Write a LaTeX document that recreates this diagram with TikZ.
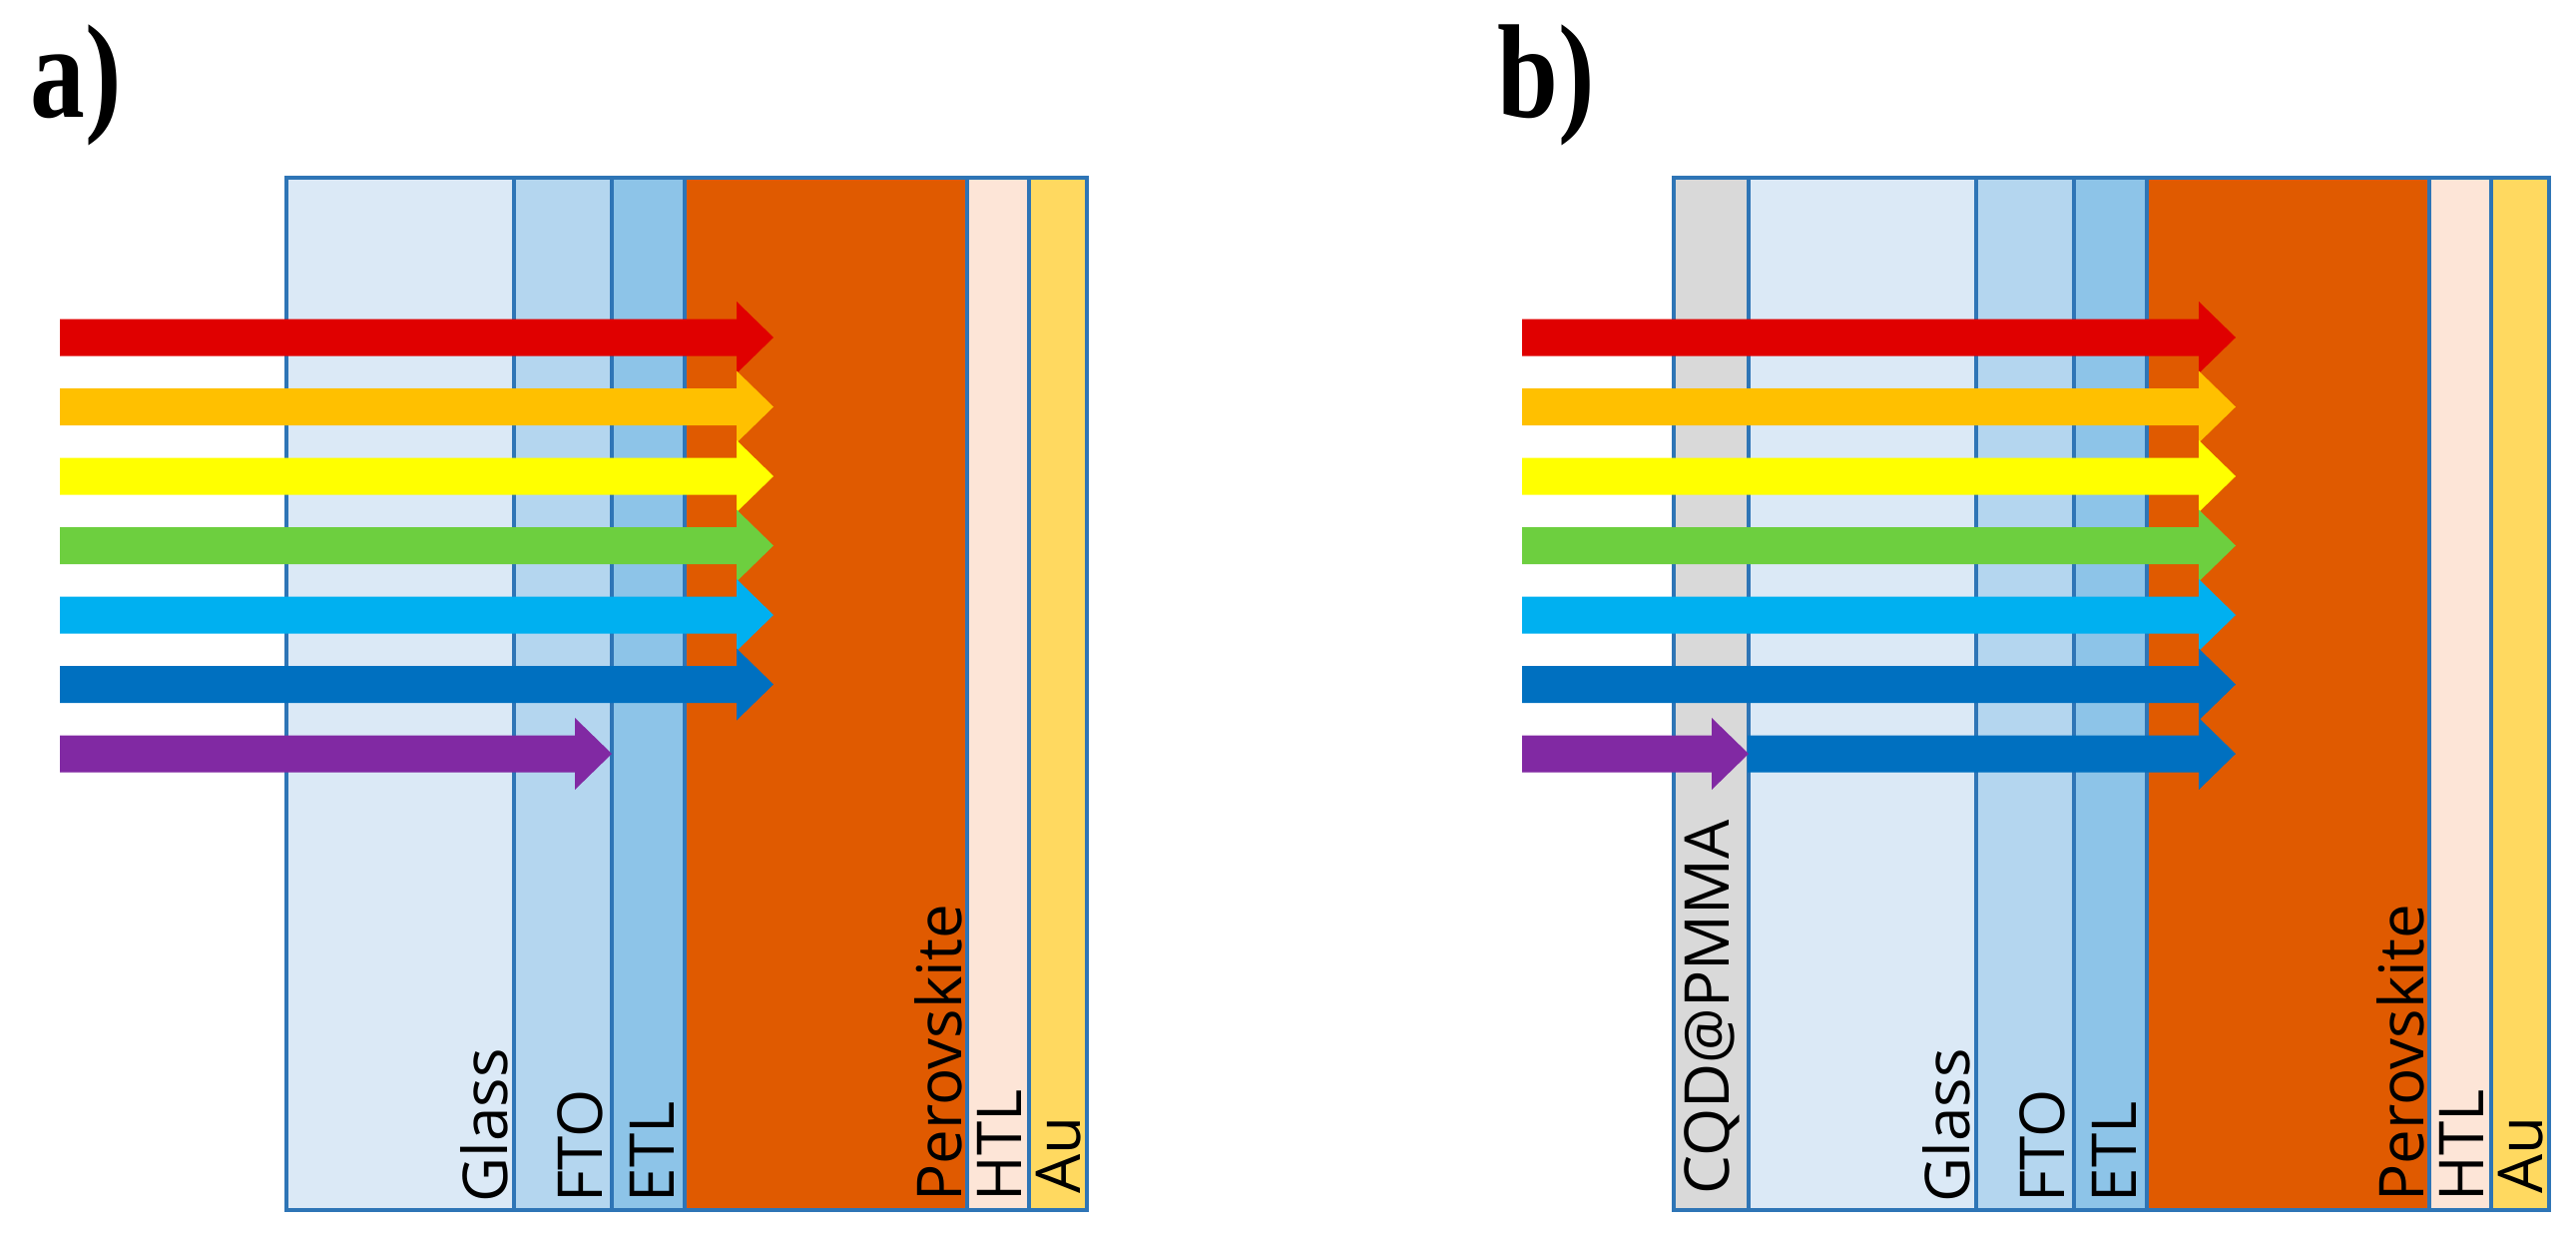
\documentclass[tikz,border=0pt]{standalone}
\usepackage{fontspec}
\setmainfont{Liberation Serif}
\newfontfamily\lblfont{Open Sans}
\definecolor{edgeblue}{HTML}{2E75B6}
\definecolor{glassc}{HTML}{DBE9F6}
\definecolor{ftoc}{HTML}{B4D6EF}
\definecolor{etlc}{HTML}{8DC4E8}
\definecolor{peroc}{HTML}{E05A00}
\definecolor{htlc}{HTML}{FDE5D7}
\definecolor{auc}{HTML}{FFD960}
\definecolor{cqdc}{HTML}{D9D9D9}
\definecolor{bred}{HTML}{E00000}
\definecolor{borange}{HTML}{FFC000}
\definecolor{byellow}{HTML}{FFFF00}
\definecolor{bgreen}{HTML}{6DCF3F}
\definecolor{bcyan}{HTML}{00B0F0}
\definecolor{bblue}{HTML}{0070C0}
\definecolor{bpurple}{HTML}{8129A3}
\newcommand\beam[4]{% color, x start, x tip, y centre
  \fill[#1] (#2,#4-18.5) -- (#3-37,#4-18.5) -- (#3-37,#4-36) -- (#3,#4)
    -- (#3-37,#4+36) -- (#3-37,#4+18.5) -- (#2,#4+18.5) -- cycle;}
\begin{document}
\begin{tikzpicture}[x=0.01cm,y=-0.01cm,
  layerbox/.style={draw=edgeblue, line width=1pt},
  lbl/.style={rotate=90, anchor=base west, inner sep=0pt,
    font=\lblfont\fontsize{17.6}{20}\selectfont},
  paneltag/.style={anchor=base west, inner sep=0pt,
    font=\bfseries\fontsize{38}{44}\selectfont}]
\useasboundingbox (0,0) rectangle (2581,1239);

% ---------- panel a ----------
\node[paneltag] (taga) at (30,117) {\scalebox{0.82}[1]{a)}};
\fill[glassc] (287,178) rectangle (515,1212);
\fill[ftoc] (515,178) rectangle (613,1212);
\fill[etlc] (613,178) rectangle (686,1212);
\fill[peroc] (686,178) rectangle (969,1212);
\fill[htlc] (969,178) rectangle (1031,1212);
\fill[auc] (1031,178) rectangle (1089,1212);
\foreach \xa/\xb in {287/515,515/613,613/686,686/969,969/1031,1031/1089}
  \draw[layerbox] (\xa,178) rectangle (\xb,1212);

\node[lbl] (glassa) at (508,1205) {Glass};
\node[lbl] (ftoa) at (603,1205) {FTO};
\node[lbl] (etla) at (675,1205) {ETL};
\node[lbl] (peroa) at (963,1204) {Perovskite};
\node[lbl] (htla) at (1023,1204) {HTL};
\node[lbl] (aua) at (1082,1196) {Au};

\beam{bred}{60}{775}{338}
\beam{borange}{60}{775}{407.5}
\beam{byellow}{60}{775}{477}
\beam{bgreen}{60}{775}{546.5}
\beam{bcyan}{60}{775}{616}
\beam{bblue}{60}{775}{685.5}
\beam{bpurple}{60}{613}{755}

% ---------- panel b ----------
\node[paneltag] (tagb) at (1500,117) {\scalebox{0.82}[1]{b)}};
\fill[cqdc] (1677,178) rectangle (1752,1212);
\fill[glassc] (1752,178) rectangle (1980,1212);
\fill[ftoc] (1980,178) rectangle (2078,1212);
\fill[etlc] (2078,178) rectangle (2151,1212);
\fill[peroc] (2151,178) rectangle (2434,1212);
\fill[htlc] (2434,178) rectangle (2496,1212);
\fill[auc] (2496,178) rectangle (2554,1212);
\foreach \xa/\xb in {1677/1752,1752/1980,1980/2078,2078/2151,2151/2434,2434/2496,2496/2554}
  \draw[layerbox] (\xa,178) rectangle (\xb,1212);

\node[lbl] (cqdb) at (1732,1197) {CQD@PMMA};
\node[lbl] (glassb) at (1973,1205) {Glass};
\node[lbl] (ftob) at (2068,1205) {FTO};
\node[lbl] (etlb) at (2140,1205) {ETL};
\node[lbl] (perob) at (2428,1204) {Perovskite};
\node[lbl] (htlb) at (2488,1204) {HTL};
\node[lbl] (aub) at (2547,1196) {Au};

\beam{bred}{1525}{2240}{338}
\beam{borange}{1525}{2240}{407.5}
\beam{byellow}{1525}{2240}{477}
\beam{bgreen}{1525}{2240}{546.5}
\beam{bcyan}{1525}{2240}{616}
\beam{bblue}{1525}{2240}{685.5}
\beam{bblue}{1751}{2240}{755}
\beam{bpurple}{1525}{1752}{755}
\end{tikzpicture}
\end{document}
